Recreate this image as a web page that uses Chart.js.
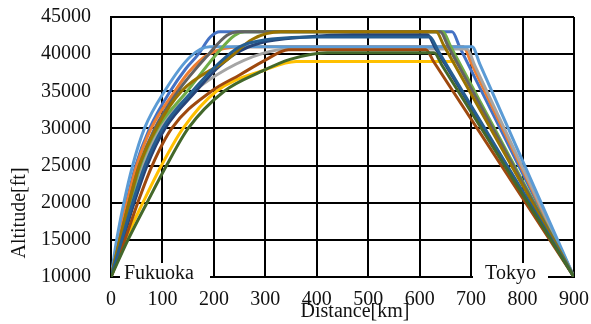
<!DOCTYPE html>
<html>
<head>
<meta charset="utf-8">
<script src="https://cdn.jsdelivr.net/npm/chart.js@4"></script>
<style>
  html, body { margin: 0; padding: 0; background: #fff; }
  #wrap { width: 591px; height: 324px; }
</style>
</head>
<body>
<div id="wrap"><canvas id="alt-chart" width="591" height="324"></canvas></div>
<script>
// ── データ (距離 km / 高度 ft) ─────────────────────────
const F01_KM = [0, 14, 30, 48, 75, 115, 145, 170, 193, 212, 663, 678, 900];
const F01_FT = [10000, 15000, 20000, 25000, 30000, 35000, 38000, 40000, 42300, 43000, 43000, 40910, 10000];

const F02_KM = [0, 15, 31, 50, 78, 124, 150, 190, 255, 685, 700, 900];
const F02_FT = [10000, 15000, 20000, 25000, 30000, 35000, 37500, 40000, 41000, 41000, 38840, 10000];

const F03_KM = [0, 20, 40, 62, 95, 162, 225, 295, 345, 692, 707, 900];
const F03_FT = [10000, 15000, 20000, 25000, 30000, 35000, 38000, 40100, 40700, 40700, 38490, 10000];

const F04_KM = [0, 28, 62, 98, 140, 205, 300, 360, 672, 687, 900];
const F04_FT = [10000, 15000, 20000, 25000, 30000, 35000, 37900, 39000, 39000, 37090, 10000];

const F05_KM = [0, 11, 25, 42, 65, 104, 154, 192, 702, 717, 900];
const F05_FT = [10000, 15000, 20000, 25000, 30000, 35000, 39650, 41000, 41000, 38650, 10000];

const F06_KM = [0, 18, 37, 57, 90, 148, 205, 240, 260, 645, 660, 900];
const F06_FT = [10000, 15000, 20000, 25000, 30000, 35000, 40000, 42500, 43000, 43000, 41060, 10000];

const F07_KM = [0, 23, 45, 70, 105, 165, 205, 240, 290, 380, 470, 615, 630, 900];
const F07_FT = [10000, 15000, 20000, 25000, 30000, 35000, 38000, 40000, 41500, 42300, 42600, 42600, 40880, 10000];

const F08_KM = [0, 27, 52, 80, 118, 195, 250, 300, 345, 612, 627, 900];
const F08_FT = [10000, 15000, 20000, 25000, 30000, 35000, 37200, 39200, 40600, 40600, 39010, 10000];

const F09_KM = [0, 17, 35, 55, 85, 130, 190, 225, 250, 640, 655, 900];
const F09_FT = [10000, 15000, 20000, 25000, 30000, 35000, 40000, 42500, 43000, 43000, 41100, 10000];

const F10_KM = [0, 17, 35, 55, 88, 137, 225, 275, 330, 632, 647, 900];
const F10_FT = [10000, 15000, 20000, 25000, 30000, 35000, 39200, 42000, 43000, 43000, 41150, 10000];

const F11_KM = [0, 21, 42, 66, 100, 158, 210, 250, 290, 400, 620, 635, 900];
const F11_FT = [10000, 15000, 20000, 25000, 30000, 35000, 38800, 41000, 41800, 42300, 42300, 40570, 10000];

const F12_KM = [0, 33, 70, 108, 150, 220, 290, 348, 420, 628, 643, 900];
const F12_FT = [10000, 15000, 20000, 25000, 30000, 35000, 37600, 39300, 40200, 40200, 38540, 10000];

const FLIGHTS = [
  [F01_KM, F01_FT], [F02_KM, F02_FT], [F03_KM, F03_FT], [F04_KM, F04_FT],
  [F05_KM, F05_FT], [F06_KM, F06_FT], [F07_KM, F07_FT], [F08_KM, F08_FT],
  [F09_KM, F09_FT], [F10_KM, F10_FT], [F11_KM, F11_FT], [F12_KM, F12_FT],
];

// Excel 既定の系列色
const COLORS = [
  "#4472C4", "#ED7D31", "#A5A5A5", "#FFC000", "#5B9BD5", "#70AD47",
  "#264478", "#9E480E", "#636363", "#997300", "#255E91", "#43682B",
];

const ORIGIN = "Fukuoka";
const DEST   = "Tokyo";
const X_TITLE = "Distance[km]";
const Y_TITLE = "Altitude[ft]";

const FONT = "Liberation Serif, Times New Roman, serif";

// ── 注釈・軸タイトル プラグイン ────────────────────────
const labelPlugin = {
  id: "routeLabels",
  afterDatasetsDraw(c) {
    const { ctx, scales: { x, y } } = c;
    const py = y.getPixelForValue(10000);
    const p0 = x.getPixelForValue(F01_KM[0]);
    const p1 = x.getPixelForValue(F01_KM.at(-1));
    ctx.save();
    ctx.font = `20px ${FONT}`;
    ctx.textBaseline = "alphabetic";
    // 出発地
    ctx.fillStyle = "#fff";
    ctx.fillRect(p0 + 9, py - 14, 90, 26);
    ctx.fillStyle = "#111";
    ctx.textAlign = "left";
    ctx.fillText(ORIGIN, p0 + 13, py + 2);
    // 到着地
    ctx.fillStyle = "#fff";
    ctx.fillRect(p1 - 101, py - 14, 75, 26);
    ctx.fillStyle = "#111";
    ctx.textAlign = "center";
    ctx.fillText(DEST, p1 - 63.5, py + 2);
    ctx.restore();
  },
  afterDraw(c) {
    const { ctx, chartArea: a } = c;
    ctx.save();
    ctx.font = `20px ${FONT}`;
    ctx.fillStyle = "#111";
    ctx.textAlign = "center";
    ctx.textBaseline = "middle";
    ctx.fillText(X_TITLE, a.left + 244, 312);
    ctx.translate(20, a.top + 196);
    ctx.rotate(-Math.PI / 2);
    ctx.fillText(Y_TITLE, 0, 0);
    ctx.restore();
  },
};

// ── チャート ────────────────────────────────────────────
// 後の系列が上に描かれるよう逆順に並べる
const datasets = FLIGHTS.map(([km, ft], i) => ({
  label: `Flight ${i + 1}`,
  data: km.map((d, j) => ({ x: d, y: ft[j] })),
  borderColor: COLORS[i],
  borderWidth: 3,
  pointRadius: 0,
  cubicInterpolationMode: "monotone",
  fill: false,
})).reverse();

new Chart(document.getElementById("alt-chart"), {
  type: "line",
  data: { datasets },
  plugins: [labelPlugin],
  options: {
    responsive: false,
    animation: false,
    events: [],
    layout: { padding: { top: 17, right: 17, left: 0, bottom: 0 } },
    plugins: { legend: { display: false }, tooltip: { enabled: false } },
    scales: {
      x: {
        type: "linear",
        min: 0, max: 900,
        afterFit: (s) => { s.height = 47; s.paddingLeft = 0; s.paddingRight = 0; },
        ticks: {
          stepSize: 100, color: "#111", padding: 11, maxRotation: 0,
          font: { family: FONT, size: 20 },
          callback: (v) => String(v),
        },
        grid: { color: "#000", lineWidth: 2, drawTicks: false, tickLength: 0 },
        border: { color: "#000", width: 2 },
      },
      y: {
        min: 10000, max: 45000,
        afterFit: (s) => { s.width = 111; s.paddingTop = 0; s.paddingBottom = 0; },
        ticks: {
          stepSize: 5000, color: "#111", padding: 20,
          font: { family: FONT, size: 20 },
          callback: (v) => String(v),
        },
        grid: { color: "#000", lineWidth: 2, drawTicks: false, tickLength: 0 },
        border: { color: "#000", width: 2 },
      },
    },
  },
});
</script>
</body>
</html>
